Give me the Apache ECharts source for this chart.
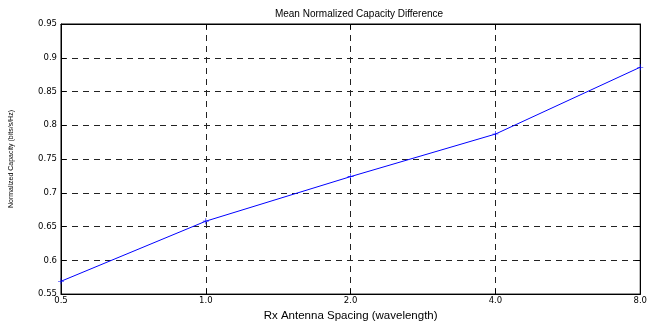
<!DOCTYPE html>
<html>
<head>
<meta charset="utf-8">
<script src="https://cdn.jsdelivr.net/npm/echarts@6/dist/echarts.min.js"></script>
<style>
  html, body { margin: 0; padding: 0; background: #fff; }
  #main { width: 650px; height: 327px; }
</style>
</head>
<body>
<div id="main"></div>
<script>
var spacing = ['0.5', '1.0', '2.0', '4.0', '8.0'];
var capacity = [0.569, 0.658, 0.724, 0.787, 0.886];

var dom = document.getElementById("main");
var myChart = echarts.init(dom);
var font = 'Liberation Sans, Arial, sans-serif';
var tickFont = 'DejaVu Sans, sans-serif';
var plus = 'path://M4.5,0h1v4.5h4.5v1h-4.5v4.5h-1v-4.5h-4.5v-1h4.5z';

var option = {
    animation: false,
    title: {
        text: 'Mean Normalized Capacity Difference',
        left: 354,
        textAlign: 'center',
        top: 4,
        textStyle: { fontFamily: font, fontSize: 10, fontWeight: 'normal', color: '#000' }
    },
    grid: {
        left: 59, right: 7, top: 24, bottom: 24,
        show: true, borderColor: '#000', borderWidth: 1
    },
    xAxis: [
        {
            type: 'category',
            data: spacing,
            boundaryGap: false,
            name: 'Rx Antenna Spacing (wavelength)',
            nameLocation: 'middle',
            nameGap: 14,
            nameTextStyle: { fontFamily: font, fontSize: 11.5, color: '#000' },
            axisLine: { lineStyle: { color: '#000', width: 1 } },
            axisTick: { inside: true, length: 5, alignWithLabel: true, lineStyle: { color: '#000' } },
            axisLabel: { fontFamily: tickFont, fontSize: 8.5, color: '#000', margin: 2 },
            splitLine: { show: true, lineStyle: { color: '#222', type: [6, 5], width: 1 } }
        },
        {
            type: 'category',
            data: spacing,
            boundaryGap: false,
            position: 'top',
            axisLine: { lineStyle: { color: '#000' } },
            axisTick: { inside: true, length: 5, lineStyle: { color: '#000' } },
            axisLabel: { show: false }
        }
    ],
    yAxis: [
        {
            type: 'value',
            min: 0.55,
            max: 0.95,
            interval: 0.05,
            name: 'Normalized Capacity (bits/s/Hz)',
            nameLocation: 'middle',
            nameGap: 46,
            nameTextStyle: { fontFamily: font, fontSize: 7, color: '#000' },
            axisLine: { show: true, lineStyle: { color: '#000', width: 1 } },
            axisTick: { show: true, inside: true, length: 5, lineStyle: { color: '#000' } },
            axisLabel: {
                fontFamily: tickFont, fontSize: 8.5, color: '#000', margin: 4,
                formatter: function (v) { return +v.toFixed(2) + ''; }
            },
            splitLine: { show: true, lineStyle: { color: '#222', type: [6, 5], width: 1 } }
        },
        {
            type: 'value',
            min: 0.55,
            max: 0.95,
            interval: 0.05,
            position: 'right',
            axisLine: { show: true, lineStyle: { color: '#000' } },
            axisTick: { show: true, inside: true, length: 5, lineStyle: { color: '#000' } },
            axisLabel: { show: false },
            splitLine: { show: false }
        }
    ],
    series: [
        {
            type: 'line',
            data: capacity,
            symbol: plus,
            symbolSize: 6,
            showAllSymbol: true,
            lineStyle: { color: '#0000ff', width: 1 },
            itemStyle: { color: '#0000ff' }
        }
    ]
};
myChart.setOption(option);
</script>
</body>
</html>
